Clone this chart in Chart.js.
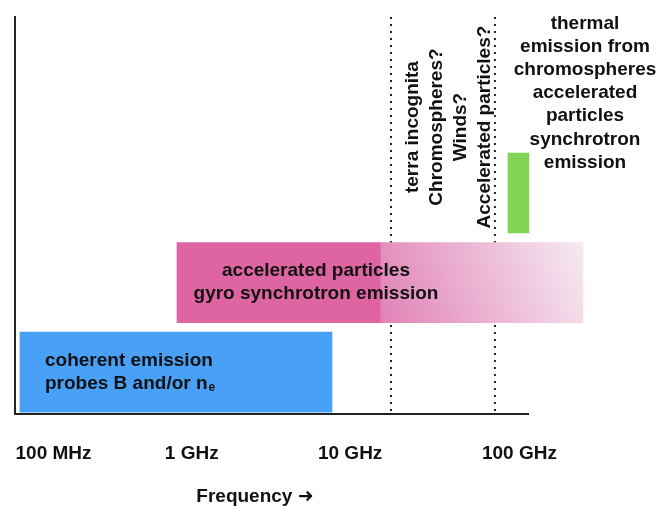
<!DOCTYPE html>
<html>
<head>
<meta charset="utf-8">
<script src="https://cdn.jsdelivr.net/npm/chart.js@4.4.1/dist/chart.umd.min.js"></script>
<style>
  html, body { margin: 0; padding: 0; background: #fff; }
  #wrap { width: 660px; height: 506px; }
</style>
</head>
<body>
<div id="wrap"><canvas id="bands"></canvas></div>
<script>
// x axis is log10(frequency in Hz), schematic: labels sit where the picture puts them
const tickPos = [8, 8.89, 9.91, 11];
const tickLabels = ['100 MHz', '1 GHz', '10 GHz', '100 GHz'];

// emission bands (row 1 = bottom)
const bandNames = ['coherent emission', 'gyro synchrotron', 'gyro synchrotron (uncertain)', 'thermal + synchrotron'];
const bandRow = [1, 2, 2, 3];
const bandFrom = [7.784, 8.795, 10.108, 10.926];
const bandTo = [9.793, 10.108, 11.409, 11.061];

// dotted "terra incognita" limits
const dividerPos = [10.173, 10.842];

const X_MIN = 7.752, X_MAX = 11.055;
const Y_MIN = 0.53, Y_MAX = 4.966;

const FONT = '"Liberation Sans", "DejaVu Sans", Arial, sans-serif';
const INK = '#111';

// text notes: x in axis units, y in row units
const notes = [
  { lines: ['coherent emission', 'probes B and/or n'], sub: 'e', x: 7.945, y: 1, align: 'left' },
  { lines: ['accelerated particles', 'gyro synchrotron emission'], x: 9.69, y: 2, align: 'center' },
  { lines: ['terra incognita', 'Chromospheres?', 'Winds?', 'Accelerated particles?'], x: 10.546, y: 3.737, align: 'center', rotate: true, gap: 24 },
  { lines: ['thermal', 'emission from', 'chromospheres', 'accelerated', 'particles', 'synchrotron', 'emission'], x: 11.422, y: 4.117, align: 'center', gap: 23.2 }
];

function bandColor(ctx) {
  const i = ctx.dataIndex;
  if (i === 0) return 'rgb(73,160,247)';
  if (i === 1) return 'rgb(222,100,162)';
  if (i === 3) return 'rgb(129,214,88)';
  const chart = ctx.chart;
  if (!chart.chartArea) return 'rgb(233,176,208)';
  const xs = chart.scales.x, ys = chart.scales.y;
  const x0 = xs.getPixelForValue(bandFrom[i]);
  const x1 = xs.getPixelForValue(bandTo[i]);
  const yc = ys.getPixelForValue(bandRow[i]);
  const g = chart.ctx.createLinearGradient(x0, yc + 40, x1, yc - 40);
  g.addColorStop(0, 'rgb(225,130,183)');
  g.addColorStop(1, 'rgb(246,234,241)');
  return g;
}

const notesPlugin = {
  id: 'notes',
  afterDatasetsDraw(chart) {
    const c = chart.ctx, xs = chart.scales.x, ys = chart.scales.y;
    c.save();
    c.fillStyle = INK;
    c.textBaseline = 'middle';
    notes.forEach(n => {
      const px = xs.getPixelForValue(n.x);
      const py = ys.getPixelForValue(n.y);
      const gap = n.gap || 23;
      c.font = 'bold 19px ' + FONT;
      c.textAlign = n.align;
      c.save();
      c.translate(px, py);
      if (n.rotate) c.rotate(-Math.PI / 2);
      n.lines.forEach((t, k) => {
        const off = (k - (n.lines.length - 1) / 2) * gap;
        c.fillText(t, 0, off);
        if (n.sub && k === n.lines.length - 1) {
          const w = c.measureText(t).width;
          c.font = 'bold 12px ' + FONT;
          c.textAlign = 'left';
          c.fillText(n.sub, w + 1, off + 4);
          c.font = 'bold 19px ' + FONT;
          c.textAlign = n.align;
        }
      });
      c.restore();
    });
    // axis caption
    c.font = 'bold 19px ' + FONT;
    c.textAlign = 'center';
    c.fillText('Frequency \u279C', xs.getPixelForValue(9.297), chart.chartArea.bottom + 83);
    c.restore();
  }
};

const datasets = [{
  type: 'bar',
  label: 'bands',
  data: bandRow.map((r, i) => ({ y: r, x: [bandFrom[i], bandTo[i]] })),
  backgroundColor: bandColor,
  borderWidth: 0,
  barThickness: 80,
  clip: false
}];
dividerPos.forEach((p, i) => {
  datasets.push({
    type: 'line',
    label: 'limit ' + (i + 1),
    data: [{ x: p, y: Y_MAX }, { x: p, y: 0.552 }],
    borderColor: '#222',
    borderWidth: 2,
    borderDash: [2, 5],
    pointRadius: 0,
    fill: false
  });
});

new Chart(document.getElementById('bands'), {
  type: 'bar',
  data: { datasets },
  options: {
    indexAxis: 'y',
    responsive: true,
    maintainAspectRatio: false,
    animation: false,
    layout: { padding: { left: 15, right: 132, top: 17, bottom: 13 } },
    plugins: { legend: { display: false }, tooltip: { enabled: false } },
    scales: {
      x: {
        type: 'linear',
        min: X_MIN,
        max: X_MAX,
        grid: { display: false, drawTicks: false, tickLength: 0 },
        border: { display: true, color: '#222', width: 2 },
        afterBuildTicks: s => { s.ticks = tickPos.map(v => ({ value: v })); },
        afterFit: s => { s.paddingLeft = 0; s.paddingRight = 0; },
        ticks: {
          autoSkip: false,
          maxRotation: 0,
          padding: 28,
          color: INK,
          font: { family: FONT, size: 19, weight: 'bold' },
          callback: (v, i) => tickLabels[i]
        }
      },
      y: {
        type: 'linear',
        offset: false,
        min: Y_MIN,
        max: Y_MAX,
        grid: { display: false, drawTicks: false, tickLength: 0 },
        border: { display: true, color: '#222', width: 2 },
        ticks: { display: false }
      }
    }
  },
  plugins: [notesPlugin]
});
</script>
</body>
</html>
